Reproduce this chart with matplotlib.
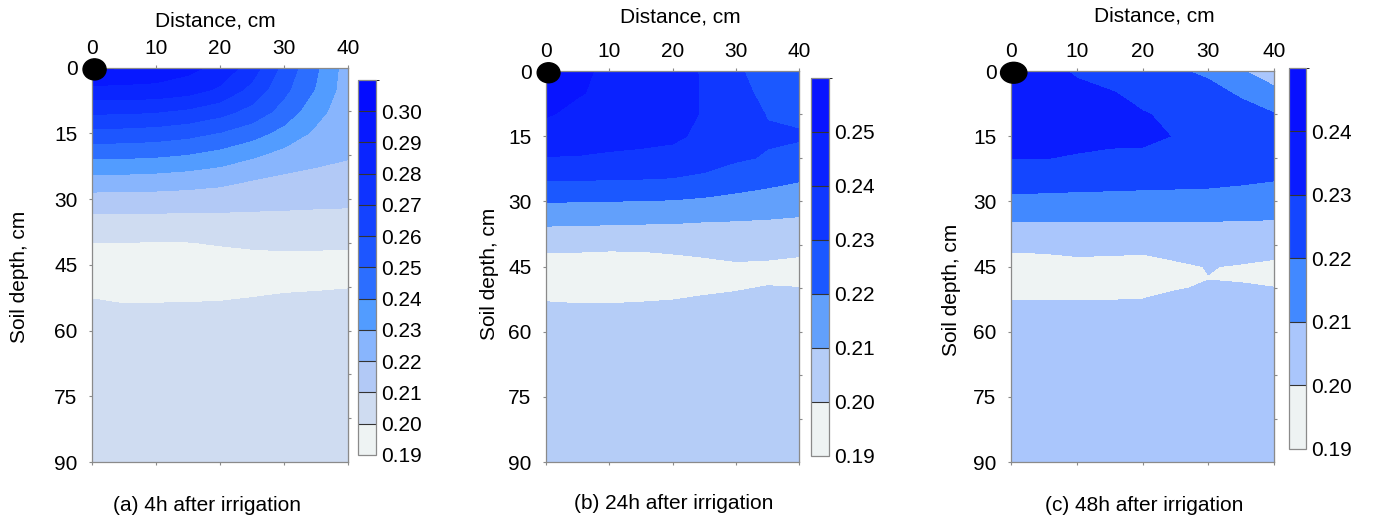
import numpy as np
import matplotlib
matplotlib.use("Agg")
import matplotlib.pyplot as plt
from matplotlib.colors import ListedColormap, BoundaryNorm
from matplotlib.patches import Ellipse

plt.rcParams["font.family"] = ["Liberation Sans", "DejaVu Sans"]
plt.rcParams["font.size"] = 15

# grid nodes (cm)
distance = [0, 5, 10, 15, 20, 25, 30, 35, 40]
depth = [0, 5, 10, 15, 20, 25, 30, 35, 40, 45, 47.5, 50, 55, 60, 75, 90]

# soil water content; one list per distance column, going down in depth
theta_4h = [
    [0.302, 0.2873, 0.2719, 0.2564, 0.2422, 0.2282, 0.2161, 0.2071, 0.1998, 0.1960, 0.1968, 0.1985, 0.2012, 0.2030, 0.2040, 0.2040],
    [0.300, 0.2870, 0.2717, 0.2562, 0.2420, 0.2281, 0.2160, 0.2070, 0.1998, 0.1958, 0.1966, 0.1982, 0.2005, 0.2030, 0.2040, 0.2040],
    [0.297, 0.2868, 0.2706, 0.2552, 0.2412, 0.2274, 0.2157, 0.2068, 0.1996, 0.1957, 0.1966, 0.1982, 0.2006, 0.2030, 0.2040, 0.2040],
    [0.293, 0.2843, 0.2681, 0.2530, 0.2394, 0.2261, 0.2153, 0.2068, 0.1997, 0.1958, 0.1966, 0.1982, 0.2007, 0.2030, 0.2040, 0.2040],
    [0.287, 0.2783, 0.2637, 0.2493, 0.2362, 0.2242, 0.2146, 0.2070, 0.2006, 0.1960, 0.1966, 0.1980, 0.2010, 0.2030, 0.2040, 0.2040],
    [0.275, 0.2669, 0.2566, 0.2440, 0.2315, 0.2210, 0.2136, 0.2071, 0.2014, 0.1965, 0.1971, 0.1985, 0.2015, 0.2030, 0.2040, 0.2040],
    [0.2568, 0.2525, 0.2461, 0.2364, 0.2265, 0.2188, 0.2129, 0.2072, 0.2018, 0.1968, 0.1976, 0.1992, 0.2018, 0.2030, 0.2040, 0.2040],
    [0.2415, 0.2392, 0.2334, 0.2279, 0.2228, 0.2177, 0.2124, 0.2070, 0.2014, 0.1972, 0.1980, 0.1995, 0.2018, 0.2030, 0.2040, 0.2040],
    [0.2250, 0.2245, 0.2238, 0.2228, 0.2208, 0.2168, 0.2121, 0.2068, 0.2010, 0.1975, 0.1983, 0.1998, 0.2018, 0.2030, 0.2040, 0.2040],
]
theta_24h = [
    [0.2555, 0.2535, 0.2507, 0.2455, 0.2396, 0.2305, 0.2204, 0.2113, 0.2019, 0.1965, 0.1968, 0.1980, 0.2012, 0.2030, 0.2040, 0.2040],
    [0.2515, 0.2506, 0.2480, 0.2439, 0.2395, 0.2304, 0.2202, 0.2111, 0.2019, 0.1963, 0.1966, 0.1978, 0.2009, 0.2030, 0.2040, 0.2040],
    [0.2485, 0.2482, 0.2470, 0.2440, 0.2383, 0.2300, 0.2200, 0.2107, 0.2015, 0.1962, 0.1966, 0.1978, 0.2009, 0.2030, 0.2040, 0.2040],
    [0.2470, 0.2468, 0.2458, 0.2428, 0.2378, 0.2298, 0.2196, 0.2104, 0.2016, 0.1962, 0.1967, 0.1980, 0.2011, 0.2030, 0.2040, 0.2040],
    [0.2460, 0.2458, 0.2450, 0.2420, 0.2364, 0.2294, 0.2193, 0.2102, 0.2025, 0.1965, 0.1970, 0.1983, 0.2014, 0.2030, 0.2040, 0.2040],
    [0.2385, 0.2388, 0.2388, 0.2375, 0.2345, 0.2277, 0.2182, 0.2095, 0.2034, 0.1975, 0.1979, 0.1990, 0.2020, 0.2030, 0.2040, 0.2040],
    [0.2315, 0.2330, 0.2345, 0.2340, 0.2312, 0.2250, 0.2168, 0.2092, 0.2040, 0.1988, 0.1988, 0.1996, 0.2022, 0.2030, 0.2040, 0.2040],
    [0.2255, 0.2275, 0.2296, 0.2310, 0.2293, 0.2227, 0.2156, 0.2088, 0.2036, 0.1985, 0.1990, 0.2003, 0.2022, 0.2030, 0.2040, 0.2040],
    [0.2195, 0.2235, 0.2275, 0.2312, 0.2261, 0.2206, 0.2143, 0.2082, 0.2024, 0.1980, 0.1988, 0.2001, 0.2020, 0.2030, 0.2040, 0.2040],
]
theta_48h = [
    [0.2375, 0.2372, 0.2362, 0.2340, 0.2303, 0.2243, 0.2175, 0.2095, 0.2016, 0.1968, 0.1970, 0.1982, 0.2015, 0.2025, 0.2030, 0.2030],
    [0.2335, 0.2345, 0.2345, 0.2335, 0.2302, 0.2241, 0.2174, 0.2095, 0.2022, 0.1966, 0.1969, 0.1982, 0.2013, 0.2025, 0.2030, 0.2030],
    [0.2285, 0.2330, 0.2338, 0.2325, 0.2293, 0.2236, 0.2171, 0.2095, 0.2032, 0.1972, 0.1975, 0.1985, 0.2012, 0.2025, 0.2030, 0.2030],
    [0.2255, 0.2306, 0.2322, 0.2316, 0.2287, 0.2233, 0.2169, 0.2094, 0.2030, 0.1970, 0.1974, 0.1985, 0.2012, 0.2025, 0.2030, 0.2030],
    [0.2245, 0.2275, 0.2305, 0.2310, 0.2290, 0.2229, 0.2167, 0.2093, 0.2024, 0.1968, 0.1973, 0.1986, 0.2014, 0.2025, 0.2030, 0.2030],
    [0.2212, 0.2255, 0.2285, 0.2298, 0.2278, 0.2228, 0.2163, 0.2094, 0.2041, 0.1985, 0.1988, 0.1998, 0.2015, 0.2025, 0.2030, 0.2030],
    [0.2180, 0.2232, 0.2268, 0.2280, 0.2268, 0.2226, 0.2159, 0.2095, 0.2050, 0.2003, 0.1999, 0.2003, 0.2018, 0.2025, 0.2030, 0.2030],
    [0.2105, 0.2185, 0.2238, 0.2258, 0.2250, 0.2215, 0.2153, 0.2093, 0.2045, 0.1994, 0.1996, 0.2004, 0.2018, 0.2025, 0.2030, 0.2030],
    [0.2050, 0.2122, 0.2205, 0.2235, 0.2225, 0.2203, 0.2149, 0.2091, 0.2030, 0.1985, 0.1990, 0.2001, 0.2018, 0.2025, 0.2030, 0.2030],
]

levels_4h = [0.19, 0.20, 0.21, 0.22, 0.23, 0.24, 0.25, 0.26, 0.27, 0.28, 0.29, 0.30, 0.31]
levels_24h = [0.19, 0.20, 0.21, 0.22, 0.23, 0.24, 0.25, 0.26]
levels_48h = [0.19, 0.20, 0.21, 0.22, 0.23, 0.24, 0.25]

depth_ticks = [0, 15, 30, 45, 60, 75, 90]
distance_ticks = [0, 10, 20, 30, 40]
captions = ["(a) 4h after irrigation", "(b) 24h after irrigation", "(c) 48h after irrigation"]

# band colours, driest -> wettest
colors_4h = ["#eef3f3", "#cfdcf1", "#b2c9f6", "#88b5fd", "#529cff", "#2c6eff",
             "#1d56ff", "#1443ff", "#0e33ff", "#0a25ff", "#0718ff", "#040cff"]
colors_24h = ["#eef3f3", "#b5cdf7", "#62a0fb", "#1b58ff", "#1038ff", "#0a22ff", "#0814ff"]
colors_48h = ["#eef3f3", "#aac6fc", "#4289ff", "#1446ff", "#0a1cff", "#0810ff"]

GREY = "#8a8a8a"

# boxes measured on the reference (fig fractions)
panels = [
    dict(theta=theta_4h, levels=levels_4h, colors=colors_4h, caption=captions[0],
         ax=[0.0670, 0.1132, 0.1865, 0.7570], cax=[0.2607, 0.1267, 0.0131, 0.7198],
         dist_xy=(0.48, 1.118), cap_xy=(0.45, -0.109), ylab_xy=(-0.247, 0.47), dot=(3.6, 4.8)),
    dict(theta=theta_24h, levels=levels_24h, colors=colors_24h, caption=captions[1],
         ax=[0.3977, 0.1132, 0.1843, 0.7505], cax=[0.5907, 0.1248, 0.0131, 0.7255],
         dist_xy=(0.532, 1.138), cap_xy=(0.506, -0.105), ylab_xy=(-0.187, 0.48), dot=(3.6, 4.6)),
    dict(theta=theta_48h, levels=levels_48h, colors=colors_48h, caption=captions[2],
         ax=[0.7364, 0.1132, 0.1916, 0.7505], cax=[0.9388, 0.1382, 0.0124, 0.7313],
         dist_xy=(0.543, 1.141), cap_xy=(0.506, -0.11), ylab_xy=(-0.19, 0.44), dot=(4.0, 4.8)),
]

fig = plt.figure(figsize=(13.73, 5.21), dpi=100)

for p in panels:
    ax = fig.add_axes(p["ax"])
    cax = fig.add_axes(p["cax"])
    z = np.array(p["theta"]).T
    cmap = ListedColormap(p["colors"])
    norm = BoundaryNorm(p["levels"], cmap.N)
    cs = ax.contourf(distance, depth, z, levels=p["levels"], cmap=cmap, norm=norm)

    ax.set_xlim(0, 40)
    ax.set_ylim(90, 0)
    ax.set_xticks(distance_ticks)
    ax.set_yticks(depth_ticks)
    ax.xaxis.tick_top()
    ax.tick_params(axis="x", top=True, bottom=True, labeltop=True, labelbottom=False,
                   direction="out", length=2.5, width=0.8, color=GREY, pad=4.5)
    ax.tick_params(axis="y", left=True, right=False, direction="out", length=2.5,
                   width=0.8, color=GREY, pad=8)
    for s in ax.spines.values():
        s.set_color(GREY)
        s.set_linewidth(0.9)
    sec = ax.secondary_yaxis("right")
    sec.set_yticks([10, 20, 30, 40, 50, 60, 70, 80])
    sec.tick_params(direction="out", length=2.5, width=0.8, color=GREY, labelright=False)
    sec.spines["right"].set_color(GREY)

    ax.set_ylabel("Soil depth, cm")
    ax.yaxis.set_label_coords(*p["ylab_xy"])
    ax.text(*p["dist_xy"], "Distance, cm", transform=ax.transAxes, ha="center", va="center")
    ax.text(*p["cap_xy"], p["caption"], transform=ax.transAxes, ha="center", va="center")

    # drip emitter
    w, h = p["dot"]
    ax.add_patch(Ellipse((0.4, 0.4), w, h, color="black", clip_on=False, zorder=10))

    cb = fig.colorbar(cs, cax=cax, ticks=p["levels"][:-1], drawedges=True)
    cb.ax.set_yticklabels([f"{v:.2f}" for v in p["levels"][:-1]])
    cb.ax.tick_params(length=0, pad=4)
    cb.outline.set_edgecolor(GREY)
    cb.outline.set_linewidth(0.9)
    cb.dividers.set_color("#333333")
    cb.dividers.set_linewidth(0.8)

fig.savefig("out.png", dpi=100)
